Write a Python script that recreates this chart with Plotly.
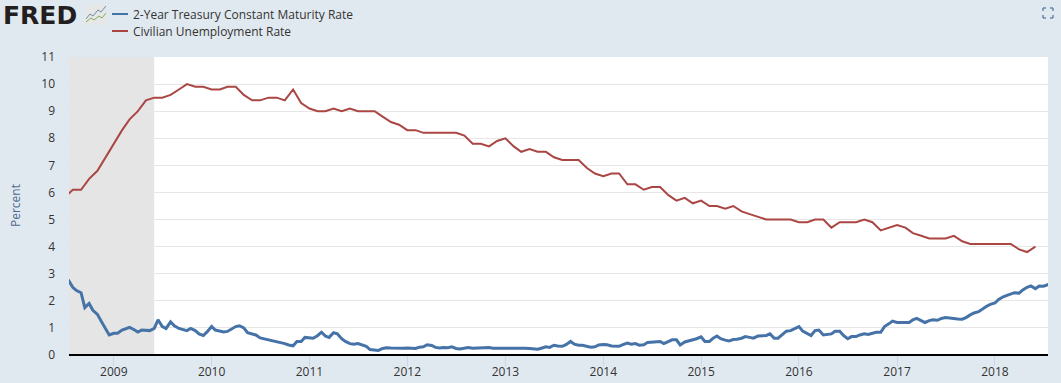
import pandas as pd
import plotly.graph_objects as go

# Civilian Unemployment Rate, monthly, from 2008-07
unrate_start = "2008-07-01"
unrate = [
    5.8, 6.1, 6.1, 6.5, 6.8, 7.3,
    7.8, 8.3, 8.7, 9.0, 9.4, 9.5, 9.5, 9.6, 9.8, 10.0, 9.9, 9.9,
    9.8, 9.8, 9.9, 9.9, 9.6, 9.4, 9.4, 9.5, 9.5, 9.4, 9.8, 9.3,
    9.1, 9.0, 9.0, 9.1, 9.0, 9.1, 9.0, 9.0, 9.0, 8.8, 8.6, 8.5,
    8.3, 8.3, 8.2, 8.2, 8.2, 8.2, 8.2, 8.1, 7.8, 7.8, 7.7, 7.9,
    8.0, 7.7, 7.5, 7.6, 7.5, 7.5, 7.3, 7.2, 7.2, 7.2, 6.9, 6.7,
    6.6, 6.7, 6.7, 6.3, 6.3, 6.1, 6.2, 6.2, 5.9, 5.7, 5.8, 5.6,
    5.7, 5.5, 5.5, 5.4, 5.5, 5.3, 5.2, 5.1, 5.0, 5.0, 5.0, 5.0,
    4.9, 4.9, 5.0, 5.0, 4.7, 4.9, 4.9, 4.9, 5.0, 4.9, 4.6, 4.7,
    4.8, 4.7, 4.5, 4.4, 4.3, 4.3, 4.3, 4.4, 4.2, 4.1, 4.1, 4.1,
    4.1, 4.1, 4.1, 3.9, 3.8, 4.0,
]

# 2-Year Treasury, read twice a month (1st and 15th), from 2008-07-15
dgs2_start = "2008-07-15"
dgs2_2008 = [2.78, 2.50, 2.38, 2.30, 1.75, 1.90, 1.65, 1.50, 1.25, 1.00, 0.74]
dgs2_2009 = [0.80, 0.80, 0.92, 0.98, 1.02, 0.95, 0.85, 0.92, 0.92, 0.90, 0.98, 1.30,
             1.05, 0.98, 1.22, 1.08, 0.98, 0.95, 0.90, 0.98, 0.90, 0.78, 0.72, 0.85]
dgs2_2010 = [1.05, 0.92, 0.87, 0.85, 0.87, 0.95, 1.05, 1.08, 1.00, 0.82, 0.78, 0.74,
             0.63, 0.60, 0.55, 0.52, 0.48, 0.47, 0.42, 0.37, 0.34, 0.50, 0.50, 0.65]
dgs2_2011 = [0.62, 0.62, 0.72, 0.84, 0.70, 0.65, 0.82, 0.78, 0.60, 0.50, 0.42, 0.40,
             0.42, 0.38, 0.32, 0.20, 0.19, 0.17, 0.24, 0.27, 0.26, 0.25, 0.26, 0.25]
dgs2_2012 = [0.26, 0.24, 0.24, 0.29, 0.30, 0.38, 0.35, 0.28, 0.26, 0.28, 0.27, 0.30,
             0.24, 0.22, 0.26, 0.28, 0.25, 0.26, 0.28, 0.29, 0.28, 0.25, 0.25, 0.26]
dgs2_2013 = [0.26, 0.27, 0.26, 0.26, 0.25, 0.25, 0.24, 0.23, 0.21, 0.25, 0.30, 0.28,
             0.36, 0.33, 0.32, 0.38, 0.50, 0.40, 0.36, 0.36, 0.31, 0.29, 0.30, 0.37]
dgs2_2014 = [0.39, 0.38, 0.33, 0.32, 0.32, 0.38, 0.44, 0.40, 0.42, 0.36, 0.38, 0.46,
             0.47, 0.50, 0.50, 0.42, 0.50, 0.56, 0.56, 0.37, 0.48, 0.52, 0.55, 0.60]
dgs2_2015 = [0.67, 0.50, 0.50, 0.62, 0.70, 0.60, 0.55, 0.52, 0.57, 0.58, 0.62, 0.68,
             0.65, 0.62, 0.70, 0.70, 0.72, 0.78, 0.62, 0.62, 0.75, 0.88, 0.90, 0.98]
dgs2_2016 = [1.05, 0.88, 0.78, 0.72, 0.90, 0.92, 0.74, 0.75, 0.78, 0.88, 0.88, 0.72,
             0.60, 0.68, 0.68, 0.74, 0.78, 0.76, 0.80, 0.84, 0.84, 1.05, 1.15, 1.25]
dgs2_2017 = [1.20, 1.20, 1.20, 1.20, 1.30, 1.35, 1.27, 1.20, 1.27, 1.30, 1.28, 1.35,
             1.38, 1.36, 1.35, 1.33, 1.32, 1.38, 1.48, 1.55, 1.60, 1.70, 1.80, 1.87]
dgs2_2018 = [1.92, 2.05, 2.15, 2.20, 2.25, 2.30, 2.28, 2.40, 2.50, 2.55, 2.45, 2.55,
             2.54, 2.60, 2.65]
dgs2 = (dgs2_2008 + dgs2_2009 + dgs2_2010 + dgs2_2011 + dgs2_2012 + dgs2_2013
        + dgs2_2014 + dgs2_2015 + dgs2_2016 + dgs2_2017 + dgs2_2018)

x_range = ["2008-07-18", "2018-07-18"]
recession_end = "2009-06-01"
y_ticks = list(range(0, 12))
x_tick_years = list(range(2009, 2019))
blue_name = "2-Year Treasury Constant Maturity Rate"
red_name = "Civilian Unemployment Rate"

BLUE, RED, BG = "#4572a7", "#aa4643", "#e1e9f0"
L, R, T, B = 69, 1048, 57, 355
px = lambda v: (v - L) / (R - L)
py = lambda v: (B - v) / (B - T)

fig = go.Figure()
fig.add_trace(go.Scatter(
    x=pd.date_range(dgs2_start, periods=len(dgs2), freq="SMS"), y=dgs2, name=blue_name,
    mode="lines", line=dict(color=BLUE, width=3), showlegend=False))
fig.add_trace(go.Scatter(
    x=pd.date_range(unrate_start, periods=len(unrate), freq="MS"), y=unrate, name=red_name,
    mode="lines", line=dict(color=RED, width=2), showlegend=False))

def paper_path(points):
    return "M" + " L".join(f"{px(a):.5f} {py(b):.5f}" for a, b in points)

shapes = [
    dict(type="rect", xref="x", yref="paper", x0=x_range[0], x1=recession_end, y0=0, y1=1,
         fillcolor="#e5e5e5", line_width=0, layer="below"),
    # legend keys
    dict(type="line", xref="paper", yref="paper", x0=px(112), x1=px(128), y0=py(14), y1=py(14),
         line=dict(color=BLUE, width=2)),
    dict(type="line", xref="paper", yref="paper", x0=px(112), x1=px(128), y0=py(31), y1=py(31),
         line=dict(color=RED, width=2)),
    # logo chart icon
    dict(type="rect", xref="paper", yref="paper", x0=px(85), x1=px(107), y0=py(5), y1=py(25),
         fillcolor="#e6e8e7", line_width=0),
    dict(type="path", xref="paper", yref="paper", line=dict(color="#6f8ca5", width=1),
         path=paper_path([(86, 19), (90, 14), (93, 16), (98, 10), (101, 12), (106, 6)])),
    dict(type="path", xref="paper", yref="paper", line=dict(color="#86a85e", width=1),
         path=paper_path([(86, 22), (91, 18), (94, 20), (99, 16), (102, 18), (106, 13)])),
]
# full-screen icon corners
for cx, cy, dx, dy in [(1043, 8, 1, 1), (1053, 8, -1, 1), (1043, 18, 1, -1), (1053, 18, -1, -1)]:
    shapes.append(dict(type="path", xref="paper", yref="paper", line=dict(color="#2f5a8c", width=1),
                       path=paper_path([(cx + 3 * dx, cy), (cx, cy), (cx, cy + 3 * dy)])))

FONT = "Open Sans"
annotations = [
    dict(text="FRED", x=px(2), y=py(15), xanchor="left", yanchor="middle",
         font=dict(family="DejaVu Sans", size=25, color="#231f20", weight=700)),
    dict(text=blue_name, x=px(132), y=py(14), xanchor="left", yanchor="middle",
         font=dict(family=FONT, size=12, color="#333333")),
    dict(text=red_name, x=px(132), y=py(31), xanchor="left", yanchor="middle",
         font=dict(family=FONT, size=12, color="#333333")),
    dict(text="Percent", x=px(15), y=py(206), xanchor="center", yanchor="middle", textangle=-90,
         font=dict(family=FONT, size=12, color="#4d6b8a")),
]
for a in annotations:
    a.update(xref="paper", yref="paper", showarrow=False, xshift=0, borderpad=0)

fig.update_layout(
    width=1061, height=383, autosize=False,
    margin=dict(l=L, r=1061 - R, t=T, b=383 - B, pad=0, autoexpand=False),
    paper_bgcolor=BG, plot_bgcolor="white",
    font=dict(family=FONT, size=12, color="#333333"),
    shapes=shapes, annotations=annotations, showlegend=False,
    xaxis=dict(type="date", range=x_range, tickvals=[f"{y}-01-01" for y in x_tick_years],
               ticktext=[str(y) for y in x_tick_years], ticks="outside", ticklen=10,
               tickcolor="#ccd6eb", tickwidth=1, showgrid=False, zeroline=False,
               showline=False, automargin=False, ticklabelstandoff=-4,
               tickfont=dict(family=FONT, size=12, color="#333333")),
    yaxis=dict(range=[0, 11], tickvals=y_ticks, ticktext=[str(v) for v in y_ticks],
               gridcolor="#e6e6e6", gridwidth=1, zeroline=True, zerolinecolor="#000000",
               zerolinewidth=2, showline=False, ticks="", ticklabelstandoff=13, automargin=False,
               tickfont=dict(family=FONT, size=12, color="#333333")),
)
fig.write_html("out.html", config=dict(displayModeBar=False),
               post_script="document.body.style.margin='0';document.body.style.overflow='hidden';")
